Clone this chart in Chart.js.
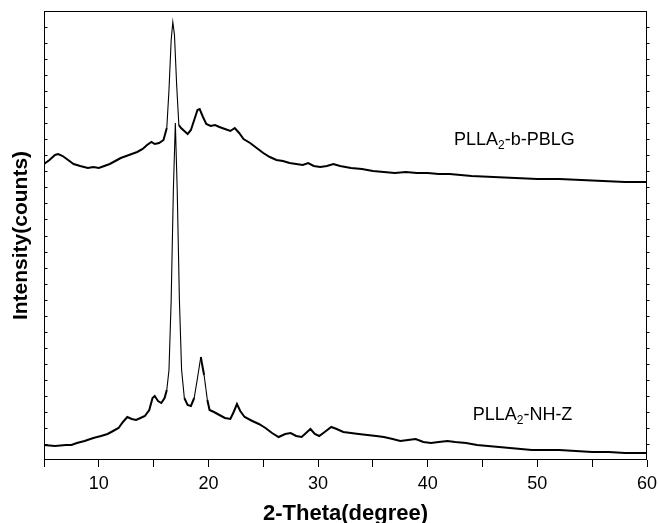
<!DOCTYPE html>
<html>
<head>
<meta charset="utf-8">
<script src="https://cdn.jsdelivr.net/npm/chart.js@4.4.1/dist/chart.umd.min.js"></script>
<style>
html,body{margin:0;padding:0;background:#fff;}
#wrap{width:658px;height:523px;}
</style>
</head>
<body>
<div id="wrap"><canvas id="c" width="658" height="523"></canvas></div>
<script>
// 2-Theta (degree) positions and intensities (counts, arbitrary)
const topTheta = [5.0,5.5,6.0,6.3,6.7,7.2,7.7,8.3,9.0,9.5,10.0,10.5,11.0,11.5,12.0,12.5,13.0,13.5,14.0,14.4,14.8,15.1,15.5,15.9,16.2,16.4,16.6,16.75,16.9,17.1,17.3,17.5,17.8,18.1,18.4,18.7,19.0,19.2,19.5,19.8,20.2,20.6,21.0,21.5,22.0,22.4,22.8,23.2,23.8,24.4,25.0,25.6,26.2,26.8,27.4,28.0,28.6,29.1,29.6,30.2,30.8,31.4,32.0,33.0,34.0,35.0,36.0,37.0,38.0,39.0,40.0,41.0,42.0,43.0,44.0,46.0,48.0,50.0,52.0,54.0,56.0,58.0,60.0];
const topCounts = [2960,3000,3050,3060,3040,3000,2960,2940,2920,2930,2920,2940,2960,2990,3020,3040,3060,3080,3110,3150,3180,3160,3170,3200,3320,3700,4200,4380,4250,3750,3350,3320,3290,3260,3300,3400,3500,3510,3430,3360,3340,3350,3330,3310,3290,3320,3270,3210,3170,3120,3070,3030,3000,2990,2970,2960,2950,2970,2940,2930,2940,2960,2940,2920,2910,2890,2880,2870,2880,2870,2870,2860,2860,2850,2840,2830,2820,2810,2810,2800,2790,2780,2780];

const botTheta = [5.0,6.0,7.0,7.5,8.0,8.7,9.5,10.2,10.8,11.3,11.8,12.2,12.6,13.0,13.4,13.8,14.2,14.6,14.9,15.1,15.4,15.7,16.0,16.2,16.4,16.6,16.8,16.98,17.15,17.35,17.55,17.8,18.1,18.4,18.7,19.0,19.3,19.6,19.9,20.1,20.5,21.0,21.5,22.0,22.3,22.6,22.9,23.3,24.0,24.6,25.2,25.8,26.4,27.0,27.5,28.0,28.5,29.0,29.3,29.7,30.1,30.6,31.2,31.7,32.3,33.0,33.7,34.5,35.3,36.0,36.8,37.5,38.2,38.9,39.6,40.3,41.0,41.8,42.5,43.5,44.5,45.5,46.5,47.5,48.5,49.5,50.5,52.0,53.5,55.0,56.5,58.0,60.0];
const botCounts = [150,140,150,150,170,190,220,240,260,290,320,380,430,410,400,420,440,500,620,640,590,570,620,700,900,1600,2700,3370,2700,1600,900,620,550,540,620,820,1030,850,600,500,480,450,420,410,480,560,490,430,390,360,320,270,230,260,270,240,230,280,310,260,240,280,330,310,280,270,260,250,240,230,210,190,200,210,180,170,180,190,180,170,150,140,130,120,110,100,100,100,90,80,80,70,70];

const seriesNames = ['PLLA2-b-PBLG','PLLA2-NH-Z'];
const xTickStep = 5;
const yTickStep = 160;

function pts(xs, ys){ return xs.map((x,i)=>({x:x, y:ys[i]})); }

const FONT = "'Liberation Sans', Arial, Helvetica, sans-serif";

const segWidth = (ctx) => {
  const dx = Math.abs(ctx.p1.x - ctx.p0.x) || 1;
  const dy = Math.abs(ctx.p1.y - ctx.p0.y);
  return dy / dx > 6 ? 1.1 : 2.0;
};

const framePlugin = {
  id: 'frame',
  afterDraw(chart){
    const {ctx, chartArea:a, scales} = chart;
    ctx.save();
    ctx.strokeStyle = '#000';
    ctx.lineWidth = 1;
    ctx.strokeRect(Math.round(a.left)+0.5, Math.round(a.top)+0.5, Math.round(a.right-a.left)-1, Math.round(a.bottom-a.top)-1);
    const ys = scales.y;
    ctx.beginPath();
    ys.ticks.forEach(t=>{
      const py = Math.round(ys.getPixelForValue(t.value))+0.5;
      if (py < a.top+2 || py > a.bottom-2) return;
      ctx.moveTo(a.left, py); ctx.lineTo(a.left+3.5, py);
      ctx.moveTo(a.right-1, py); ctx.lineTo(a.right+2.5, py);
    });
    ctx.stroke();
    const xs = scales.x;
    const labels = chart.options.plugins.frame.labels;
    labels.forEach(l=>{
      let px = xs.getPixelForValue(l.x);
      const py = ys.getPixelForValue(l.y);
      ctx.fillStyle = '#000';
      ctx.textBaseline = 'alphabetic';
      ctx.textAlign = 'left';
      ctx.font = '18px ' + FONT;
      ctx.fillText(l.a, px, py);
      px += ctx.measureText(l.a).width;
      ctx.font = '12px ' + FONT;
      ctx.fillText(l.sub, px, py+4);
      px += ctx.measureText(l.sub).width;
      ctx.font = '18px ' + FONT;
      ctx.fillText(l.b, px, py);
    });
    ctx.restore();
  }
};

new Chart(document.getElementById('c'), {
  type: 'line',
  data: {
    datasets: [
      {label: seriesNames[0], data: pts(topTheta, topCounts), borderColor:'#000', borderWidth:2, segment:{borderWidth:segWidth}, pointRadius:0, tension:0, fill:false},
      {label: seriesNames[1], data: pts(botTheta, botCounts), borderColor:'#000', borderWidth:2, segment:{borderWidth:segWidth}, pointRadius:0, tension:0, fill:false}
    ]
  },
  options: {
    responsive: false,
    animation: false,
    layout: {padding: {left:0, right:0, top:11, bottom:0}},
    plugins: {
      legend: {display:false},
      tooltip: {enabled:false},
      frame: {labels: [
        {x:42.4, y:3150, a:'PLLA', sub:'2', b:'-b-PBLG'},
        {x:44.1, y:400, a:'PLLA', sub:'2', b:'-NH-Z'}
      ]}
    },
    scales: {
      x: {
        type:'linear', min:5, max:60,
        afterFit(s){ s.height = 63; s.paddingRight = 11; s.paddingLeft = 0; },
        ticks: {stepSize:xTickStep, color:'#000', font:{family:FONT, size:18}, padding:6, maxRotation:0, autoSkip:false,
          callback:(v)=> (v % 10 === 0 ? String(v) : '')},
        grid: {drawOnChartArea:false, drawTicks:true, tickLength:7, color:'#000', lineWidth:1},
        border: {display:false},
        title: {display:true, text:'2-Theta(degree)', color:'#000', font:{family:FONT, size:22, weight:'bold', lineHeight:0.85}, padding:{top:0, bottom:0}}
      },
      y: {
        type:'linear', min:0, max:4490,
        afterFit(s){ s.width = 44; },
        ticks: {display:false, stepSize:yTickStep},
        grid: {display:false, drawTicks:false},
        border: {display:false},
        title: {display:true, text:'Intensity(counts)', color:'#000', font:{family:FONT, size:21, weight:'bold'}, padding:{top:9, bottom:0}}
      }
    }
  },
  plugins: [framePlugin]
});
</script>
</body>
</html>
